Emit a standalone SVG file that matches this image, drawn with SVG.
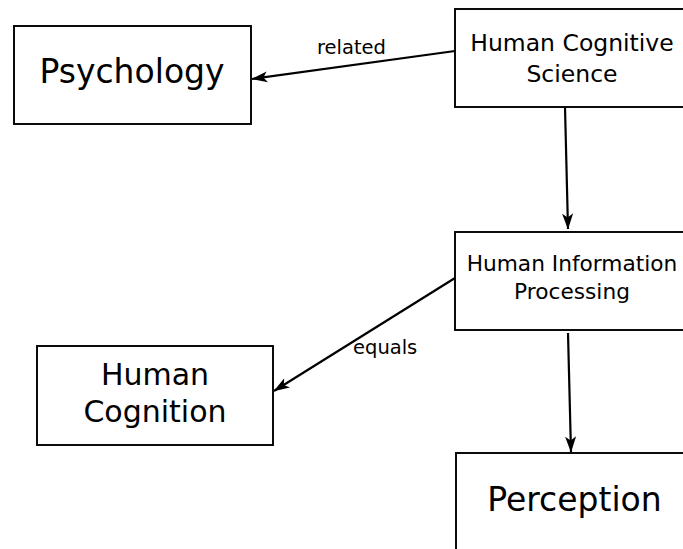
<svg xmlns="http://www.w3.org/2000/svg" width="683" height="549" viewBox="0 0 683 549">
  <style>
    .box { fill: #ffffff; stroke: #000000; stroke-width: 1.9; }
    .lbl { font-family: "DejaVu Sans", "Liberation Sans", sans-serif; fill: #000000; text-anchor: middle; }
    .edge { fill: none; stroke: #000000; stroke-width: 2.2; marker-end: url(#arrow); }
    .elbl { font-family: "DejaVu Sans", "Liberation Sans", sans-serif; fill: #000000; font-size: 19.5px; }
  </style>
  <defs>
    <marker id="arrow" markerUnits="userSpaceOnUse" viewBox="0 0 16 12" refX="15.5" refY="6" markerWidth="16" markerHeight="12" orient="auto">
      <path d="M0,0.5 L16,6 L0,11.5 L4,6 z" fill="#000000"/>
    </marker>
  </defs>
  <rect width="683" height="549" fill="#ffffff"/>

  <g id="connectors">
    <line class="edge" x1="455" y1="51" x2="252" y2="79"/>
    <text class="elbl" x="317" y="54">related</text>
    <line class="edge" x1="565" y1="107" x2="568" y2="229"/>
    <line class="edge" x1="455" y1="278" x2="274" y2="391"/>
    <text class="elbl" x="353" y="354">equals</text>
    <line class="edge" x1="568" y1="333" x2="571" y2="452"/>
  </g>

  <g id="psychology">
    <rect class="box" x="14" y="26" width="237" height="98"/>
    <text class="lbl" x="132" y="83" font-size="33">Psychology</text>
  </g>

  <g id="human-cognitive-science">
    <rect class="box" x="455" y="9" width="234" height="98"/>
    <text class="lbl" x="572" y="51" font-size="23.5">Human Cognitive</text>
    <text class="lbl" x="572" y="82" font-size="23.5">Science</text>
  </g>

  <g id="human-information-processing">
    <rect class="box" x="455" y="232" width="234" height="98"/>
    <text class="lbl" x="572" y="271" font-size="21.7">Human Information</text>
    <text class="lbl" x="572" y="299" font-size="21.7">Processing</text>
  </g>

  <g id="human-cognition">
    <rect class="box" x="37" y="346" width="236" height="99"/>
    <text class="lbl" x="155" y="385" font-size="30">Human</text>
    <text class="lbl" x="155" y="422" font-size="30">Cognition</text>
  </g>

  <g id="perception">
    <rect class="box" x="456" y="453" width="238" height="98"/>
    <text class="lbl" x="574.5" y="511" font-size="33">Perception</text>
  </g>
</svg>
